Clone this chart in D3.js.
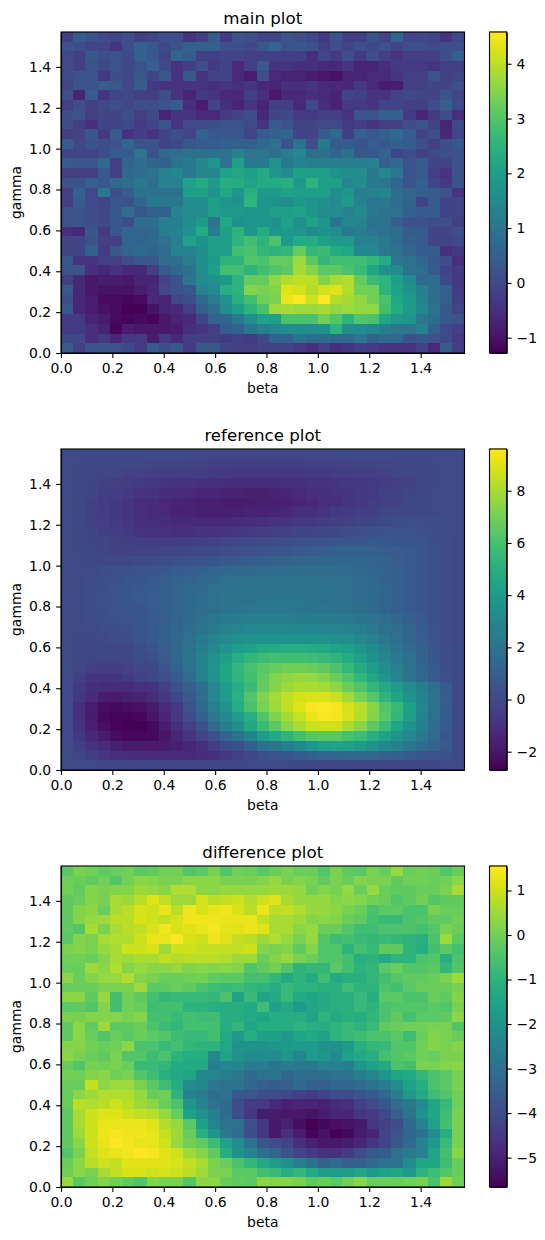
<!DOCTYPE html>
<html>
<head>
<meta charset="utf-8">
<script src="https://cdnjs.cloudflare.com/ajax/libs/d3/7.8.5/d3.min.js"></script>
<style>
  body { margin: 0; background: #fff; }
  text { font-family: "DejaVu Sans", sans-serif; fill: #000; }
  .tick text { font-size: 13.9px; }
  .axis path, .axis line { stroke: #000; stroke-width: 1.1px; }
  .cell, .step { shape-rendering: crispEdges; }
</style>
</head>
<body>
<svg width="545" height="1240"></svg>
<script>
var PI_2 = 1.5708;
var axisTicks = [0, 0.2, 0.4, 0.6, 0.8, 1.0, 1.2, 1.4];
var mainTicks = [-1, 0, 1, 2, 3, 4];
var referenceTicks = [-2, 0, 2, 4, 6, 8];
var differenceTicks = [-5, -4, -3, -2, -1, 0, 1];
var mainRange = [-1.28, 4.58];
var referenceRange = [-2.7, 9.6];
var differenceRange = [-5.66, 1.55];

// rows run from the top of the plot (gamma = pi/2) down to gamma = 0
var mainValues = [
[-.2,.4,.2,0,-.1,.1,-.2,-.1,.1,.1,-.4,-.2,.4,-.3,.2,.1,-.1,-.1,.2,.1,0,-.3,.2,-.2,-.2,.2,-.1,.6,-.1,0,-.1,-.4,0],
[.2,.1,-.1,-.1,-.4,.1,.5,.3,0,.2,.5,.5,.5,.1,.1,0,.3,.6,.2,.3,.2,-.2,.1,-.1,.1,0,.2,-.1,.1,.1,0,.1,.1],
[0,-.2,.3,.1,.2,0,.5,.3,-.1,.6,.4,-.2,-.2,-.1,-.1,-.2,-.2,-.2,-.2,-.2,-.5,-.1,-.3,.1,-.3,.1,-.2,-.4,-.2,-.2,-.2,.1,.5],
[0,-.2,.2,0,.2,0,.2,.5,0,-.4,-.2,.1,-.3,-.1,-.6,-.2,.3,-.4,-.4,-.5,-.5,-.6,-.6,-.4,-.7,-.7,-.5,-.3,-.3,-.3,-.4,-.2,-.2],
[0,.2,.2,-.3,.1,0,.3,-.1,.3,-.4,.3,-.4,-.1,-.1,-.6,-.8,.1,-.6,-.7,-.7,-.8,-.9,-1,-.7,-.7,-.6,-.6,-.4,-.2,-.2,.2,-.2,-.1],
[-.1,.2,.2,.4,.3,0,.4,-.3,-.4,-.4,-.4,-.4,-.5,-.4,-.5,-.4,-.6,-.7,-.5,-.5,-.4,-.6,-.6,-.6,-.3,-.6,-.8,-.8,-.2,-.2,-.1,-.1,.1],
[.1,-.7,.4,-.4,-.1,0,-.2,-.2,.1,-.4,-.7,-.3,-.4,-.6,-.6,-.2,-.5,-.9,-.6,-.6,-.5,-.6,-.7,-.1,-.2,-.4,-.4,-.1,0,-.1,-.1,.2,-.1],
[-.2,.1,-.2,0,.1,0,.1,.1,.2,.4,-.5,-.8,-.1,-.5,-.7,-.4,-.7,-.2,-.2,-.6,0,-.5,-.7,-.3,-.3,-.4,-.1,-.1,-.2,-.2,.1,.5,0],
[.1,.2,-.2,-.1,-.1,.1,-.2,0,-.7,-.4,-.4,-.6,-.6,-.3,-.1,.1,-.6,-.1,0,-.3,-.3,-.2,-.2,-.4,.2,.2,.5,.5,-.3,-.7,-.3,.1,-.5],
[.1,-.2,-.5,-.1,-.1,0,-.3,-.1,.2,-.4,0,0,.1,.2,.2,0,-.4,.4,.2,-.1,-.1,0,0,-.3,-.2,-.4,-.2,-.2,.1,.2,-.1,-.7,0],
[-.2,-.1,.3,-.3,.4,-.4,-.2,-.4,-.1,.1,-.1,.5,.3,.3,.3,-.1,.4,.5,.6,-.1,-.1,.4,.7,-.2,.5,.3,.5,.7,.4,-.1,.1,-.6,-.1],
[.4,0,.2,.1,.2,.6,.2,.2,-.1,0,.3,.4,.4,.5,.5,.5,.7,.9,.2,.9,.1,1.1,.4,.4,.2,.4,.3,.5,.4,.1,-.2,.1,.3],
[-.1,-.1,-.1,.1,.4,.4,1,.2,.7,.8,.9,.9,.9,.9,1.3,1,1,.8,1.2,1.4,.8,.9,.6,.9,.3,.3,.6,-.1,.1,-.2,0,.1,.2],
[.4,.3,.3,.7,-.2,.6,.8,.6,.5,.9,1.1,1.4,1.8,.9,2,1.1,1.1,1.7,1.1,1.3,1.2,1.2,1.2,1.2,1.2,1.3,.5,.7,.2,.4,-.1,-.1,.2],
[-.2,-.2,-.2,.4,-.2,.7,.8,.9,1.3,1.4,1.1,1.4,1.4,2.1,2.2,2,2.3,1.8,1.5,2,2,2,1.7,1.6,1.6,1.1,1.4,1,.2,.4,-.2,-.4,.2],
[.2,.2,.5,.3,.7,.8,1,.8,1.3,1.3,2.1,2.3,1.9,2.4,2.3,2.1,2.3,2.3,2.4,1.9,2.5,2,2,1.4,1.5,1.1,1,.6,.2,.5,-.1,-.3,.2],
[-.2,.5,0,1.1,.1,.4,.9,.9,.9,.9,2,2,1.7,2.2,1.8,2.4,1.9,1.9,2.1,2,2,2,1.6,1.8,1.2,1.3,1.4,.8,.6,.5,.4,.2,-.4],
[-.2,.4,0,-.1,.3,.2,.6,1.1,1.1,1.1,1.6,1.6,2,1.8,1.7,2.5,1.8,1.7,1.6,1.9,1.8,1.7,1.5,1.9,1.3,1,1.1,.8,.6,-.1,.4,-.1,-.1],
[.2,.2,.1,0,.3,.8,.3,.5,.5,1.3,1.5,1.5,2,1.9,1.9,1.8,1.8,2,2,2.1,1.8,1.5,1.6,1.3,1.5,1.1,.9,.9,.5,.4,.4,-.1,-.1],
[.2,.2,.1,0,.3,.1,.8,.8,1.2,1.2,1.6,1.9,1,2.2,1.7,1.8,1.8,1.7,2.1,1.7,2.1,1.8,1,1.4,1.3,.9,.9,.5,.2,.2,.1,.1,-.2],
[-.5,-.6,.3,-.3,.3,.6,.6,.7,1.2,1.3,1.7,2.3,1.2,2,2.5,1.8,2.3,1.8,1.9,1.8,1.5,1.7,1.6,1.1,1.2,1,.9,.8,.4,.4,-.1,-.1,.1],
[-.1,-.1,.2,-.2,-.2,.6,.6,.7,.9,1.2,2.1,1.7,2,2,2.5,2.8,2.5,2.9,1.9,2.3,2.3,2,1.9,1.9,1.3,1.3,1.1,.8,.5,.4,-.1,-.1,0],
[-.1,-.1,.5,-.3,.3,.6,.7,.6,.8,1.3,1.3,1.6,2,2,2.8,2.9,2.6,2.5,2.6,3.2,2.6,2.7,2.3,2.2,1.4,1.4,1.1,.9,.6,.4,.4,-.5,-.3],
[.3,-.4,-.4,-.2,-.2,.1,.3,.3,.8,.8,1.2,1.6,1.9,2.5,2.5,3,2.9,3.2,3.2,3.7,3.1,2.6,2.8,2.8,2.8,2.6,2.3,1,.9,.6,.3,.1,-.5],
[.2,.2,-.5,-.6,-.4,-.6,-.6,-.2,.4,.7,.9,1.6,2,2.8,2.8,2.5,2.8,3,3.1,3.8,3.5,3.1,3.1,2.9,2.7,2.2,1.7,1.5,.9,.8,.4,-.1,-.3],
[-.2,-.6,-.9,-.8,-.8,-.9,-.7,-.7,-.1,.2,1,1.5,1.7,1.9,2.5,3.2,3.2,3.6,3.9,4,4,3.5,3.8,3.9,3.2,2.7,2.5,2,1.5,.7,.8,0,-.3],
[.3,-.6,-.9,-1,-1,-1,-.8,-.6,0,.2,.3,1.3,1.5,2.4,2.5,3.5,3.4,3.5,4.3,4.2,3.9,4.2,4.3,3.9,3.3,3.3,2.5,2.1,1.7,1.2,.8,.5,-.3],
[.1,-.6,-.8,-1.1,-1.1,-1.2,-1.1,-.6,-.7,0,.1,.7,1.2,1.7,2.4,2.8,3.3,3.4,4.4,4.55,4.1,4.55,3.9,3.8,3.6,3.3,2.9,2.2,1.9,1.3,.8,.5,-.2],
[.3,-.6,-.8,-1,-1.1,-1.28,-1.28,-1,-.7,-.6,-.2,.5,.8,1.6,2,2.5,2.9,3.7,3.8,3.7,3.7,3.8,3.6,3.7,3.6,3.6,2.8,2.3,1.9,1.4,.9,.3,-.1],
[-.3,-.3,-.7,-.8,-1.1,-1.2,-1.1,-1.2,-.9,-.7,-.6,-.1,.6,.6,1.1,1.6,2.1,2,2.9,2.9,2.9,3.3,3,2.5,3,2.9,2.2,1.9,1.8,1,.8,.3,.2],
[-.3,-.3,-.5,-.7,-1.2,-.8,-.9,-.9,-.9,-.8,-.5,-.4,-.2,.4,.5,1,1.2,1.4,1.6,1.6,1.6,1.7,2.5,1.6,1.5,1.4,1.2,1,1,1.3,.5,0,-.2],
[0,0,-.5,-.3,-.6,-.3,-.3,-.8,-.3,-.6,-.2,-.2,-.2,-.3,-.2,-.3,0,.5,.5,.9,.8,.8,.7,.7,1,.5,.7,.7,.2,.3,.2,0,-.3],
[.4,-.2,.2,.2,.2,0,-.3,.4,.1,.3,-.3,.3,.3,-.1,-.2,-.2,-.1,-.1,-.1,-.3,-.5,-.2,-.5,-.4,-.2,-.3,-.4,-.4,-.4,-.1,-.6,.4,-.2]
];

var referenceValues = [
[0,0,0,0,0,0,0,0,0,0,0,-.1,-.1,-.1,-.1,-.1,-.1,-.1,-.1,-.1,-.1,-.1,0,0,0,0,0,0,0,0,0,0,0],
[0,0,-.1,-.1,-.1,-.1,-.1,-.2,-.2,-.2,-.3,-.3,-.4,-.4,-.4,-.4,-.4,-.4,-.4,-.4,-.3,-.3,-.3,-.3,-.2,-.2,-.2,-.1,-.1,-.1,0,0,0],
[0,-.1,-.1,-.2,-.2,-.3,-.3,-.4,-.5,-.5,-.5,-.5,-.6,-.6,-.7,-.7,-.7,-.7,-.7,-.7,-.6,-.6,-.5,-.5,-.4,-.4,-.3,-.2,-.2,-.1,-.1,0,0],
[0,-.1,-.2,-.3,-.4,-.5,-.6,-.7,-.8,-.9,-.9,-1,-1,-1.1,-1.1,-1.1,-1.1,-1.1,-1,-1,-.9,-.9,-.8,-.7,-.7,-.6,-.5,-.4,-.3,-.1,-.1,0,0],
[0,-.1,-.2,-.4,-.5,-.6,-.8,-.9,-1.1,-1.2,-1.3,-1.4,-1.4,-1.5,-1.5,-1.6,-1.6,-1.5,-1.4,-1.3,-1.1,-1,-.9,-.8,-.7,-.6,-.4,-.3,-.2,-.1,0,0,0],
[0,-.1,-.3,-.5,-.6,-.8,-1,-1.1,-1.3,-1.4,-1.5,-1.6,-1.6,-1.7,-1.7,-1.7,-1.6,-1.6,-1.5,-1.4,-1.3,-1.1,-1,-.8,-.7,-.5,-.4,-.3,-.1,-.1,0,0,0],
[0,-.1,-.3,-.5,-.7,-.9,-1,-1.2,-1.3,-1.5,-1.5,-1.6,-1.6,-1.6,-1.6,-1.5,-1.5,-1.4,-1.3,-1.1,-1,-.9,-.7,-.6,-.5,-.4,-.2,-.1,-.1,0,0,0,0],
[0,-.1,-.3,-.4,-.6,-.8,-1,-1.1,-1.2,-1.3,-1.3,-1.3,-1.3,-1.3,-1.2,-1.1,-1,-.9,-.8,-.7,-.6,-.5,-.4,-.3,-.2,-.1,0,.1,.2,.2,.1,0,0],
[0,-.1,-.2,-.4,-.5,-.6,-.8,-.9,-.9,-1,-1,-.9,-.9,-.8,-.7,-.6,-.5,-.4,-.3,-.2,-.2,-.1,0,.1,.2,.3,.4,.4,.4,.3,.2,0,0],
[0,-.1,-.2,-.2,-.3,-.4,-.5,-.5,-.5,-.5,-.5,-.4,-.3,-.2,-.1,0,.1,.2,.2,.3,.3,.4,.5,.6,.6,.7,.7,.6,.6,.4,.2,.1,0],
[0,0,-.1,-.2,-.3,-.3,-.3,-.3,-.2,-.2,-.1,0,0,.1,.2,.3,.4,.5,.6,.7,.8,.9,1,1,1,1,.9,.8,.7,.5,.3,.1,0],
[0,0,-.1,-.1,-.1,0,.1,.1,.2,.3,.4,.5,.6,.7,.8,.9,1,1.1,1.2,1.3,1.3,1.3,1.3,1.3,1.3,1.2,1.1,.9,.7,.5,.3,.1,0],
[0,0,0,.1,.2,.3,.4,.5,.6,.8,.9,1,1.2,1.3,1.4,1.4,1.5,1.5,1.6,1.6,1.6,1.6,1.6,1.5,1.4,1.3,1.2,1,.8,.6,.3,.1,0],
[0,0,.1,.2,.3,.5,.6,.7,.9,1.1,1.2,1.4,1.5,1.7,1.7,1.8,1.8,1.9,1.9,1.9,1.8,1.8,1.7,1.7,1.6,1.4,1.2,1,.8,.6,.3,.1,0],
[0,0,.1,.2,.4,.6,.7,.8,1,1.2,1.4,1.5,1.7,1.9,2,2,2,2,2,2,2,1.9,1.8,1.7,1.6,1.5,1.3,1,.8,.6,.3,.1,0],
[0,0,.1,.3,.4,.6,.7,.9,1,1.2,1.4,1.6,1.8,2,2,2,2.1,2.1,2.1,2.1,2,1.9,1.9,1.7,1.6,1.5,1.2,1,.8,.5,.3,.1,0],
[0,0,.1,.2,.4,.5,.6,.8,1,1.2,1.4,1.6,1.8,2,2.1,2.2,2.2,2.2,2.2,2.2,2.1,2.1,2,1.9,1.7,1.5,1.3,1,.8,.5,.3,.1,0],
[0,0,.1,.2,.3,.4,.6,.7,.9,1.2,1.5,1.8,2.1,2.3,2.4,2.5,2.5,2.5,2.5,2.4,2.4,2.4,2.3,2.3,2.1,1.9,1.6,1.3,1,.7,.3,.1,0],
[0,0,0,.1,.2,.3,.5,.7,1,1.3,1.6,2,2.4,2.7,2.9,3.1,3.1,3.1,3,3,3,2.9,2.9,2.8,2.6,2.3,1.9,1.6,1.2,.8,.4,.1,0],
[0,-.1,-.1,0,.1,.2,.4,.7,1,1.4,1.8,2.3,2.7,3.1,3.4,3.5,3.6,3.6,3.6,3.5,3.5,3.5,3.4,3.3,3,2.6,2.2,1.8,1.3,.9,.4,.1,0],
[0,-.1,-.1,-.1,-.1,0,.2,.5,.9,1.4,1.9,2.5,3.1,3.7,4.1,4.4,4.7,4.8,4.9,4.9,4.8,4.7,4.5,4.2,3.7,3.2,2.6,2,1.5,1,.5,.2,0],
[0,-.1,-.2,-.2,-.2,-.1,.1,.3,.8,1.3,2,2.7,3.5,4.2,4.9,5.4,5.7,5.9,5.9,5.9,5.8,5.6,5.3,4.8,4.2,3.5,2.9,2.3,1.7,1.1,.6,.2,0],
[0,-.2,-.4,-.5,-.5,-.3,-.1,0,.5,1.1,1.9,2.8,3.7,4.6,5.4,6,6.4,6.7,6.9,6.9,6.8,6.6,6.1,5.5,4.8,4,3.3,2.6,1.9,1.2,.7,.2,0],
[0,-.4,-.8,-.9,-.8,-.6,-.3,-.1,.2,.8,1.5,2.6,3.6,4.5,5.3,5.9,6.6,7.2,7.5,7.7,7.6,7.3,6.8,6.2,5.4,4.6,3.7,2.9,2.1,1.4,.8,.3,0],
[0,-.6,-1,-1.2,-1.2,-1.2,-1,-.9,-.4,.4,1,1.8,3.1,4.1,4.9,5.7,6.7,7.3,7.8,8,8,7.9,7.5,6.8,6.2,5.4,4.7,4,3.2,2.5,1.7,.8,0],
[0,-.7,-1.2,-1.7,-1.8,-1.6,-1.5,-1.2,-.7,-.1,.7,1.6,3,4,5.1,6.2,7.2,7.9,8.4,8.8,8.9,8.9,8.6,7.9,7.1,6.3,5.3,4.6,3.5,2.7,1.9,.9,0],
[0,-1,-1.7,-2.3,-2.4,-2.3,-2.2,-1.8,-1.2,-.6,.4,1.4,2.6,3.6,4.9,6,7.1,7.8,8.4,9,9.5,9.6,9.5,8.8,8.3,7.4,6.3,5.6,4.3,2.9,1.9,.8,0],
[0,-1,-1.8,-2.4,-2.6,-2.6,-2.5,-2,-1.4,-.7,.1,1,2.2,3.1,4,5,6.2,7.2,7.9,8.5,9.2,9.5,9.4,8.9,8.2,7.3,6.4,5.4,4.2,2.8,1.8,.8,0],
[0,-.9,-1.6,-2.2,-2.6,-2.7,-2.7,-2.4,-1.7,-1,-.3,.4,1.5,2.5,3.4,4.7,5.7,6.5,7.4,8.1,8.6,8.7,8.7,8,7.4,6.5,5.7,4.6,3.5,2.5,1.6,.7,0],
[0,-.7,-1.3,-1.8,-2.3,-2.5,-2.5,-2.4,-2,-1.4,-.8,-.2,.3,1.2,2,2.8,4,4.7,5.3,5.9,6.3,6.4,6.4,6,5.7,5,4.4,3.7,3,2.2,1.5,.6,0],
[0,-.4,-.9,-1.2,-1.6,-1.8,-1.8,-1.8,-1.8,-1.6,-1.4,-1,-.5,0,.3,1,1.7,2,2.5,3,3.7,4.2,4.4,4.2,3.9,3.5,3,2.6,2.1,1.6,1.2,.7,0],
[0,-.2,-.5,-.8,-1,-1.1,-1.2,-1.2,-1.3,-1.3,-1.3,-1.2,-1,-.7,-.4,-.1,.2,.4,.6,.8,1,1.2,1.3,1.4,1.5,1.4,1.2,1,.8,.6,.4,.3,0],
[0,0,0,-.1,-.1,-.1,-.1,-.1,-.1,-.1,-.1,-.1,-.1,-.1,-.1,0,0,0,0,-.1,-.1,-.1,-.1,-.1,-.1,-.1,-.1,-.1,-.1,-.1,-.1,0,0]
];

var differenceValues = [
[-.3,.1,0,-.2,-.1,0,-.3,-.2,0,0,-.4,-.3,.1,-.4,0,-.1,-.3,-.1,.1,-.1,-.1,-.4,.1,-.2,-.3,.1,-.1,.4,-.1,0,-.1,-.4,-.1],
[0,-.1,-.2,0,-.4,0,.3,.2,.1,.1,.3,.3,.3,.1,.1,.1,.2,.4,.1,.2,.1,-.2,.1,-.1,.2,.1,.1,-.2,0,0,-.1,0,.3],
[0,-.2,.2,.1,.2,.2,.5,.4,.3,.7,.7,.3,.3,.4,.4,.4,.4,.5,.5,.4,0,.2,.1,.4,-.1,.4,-.1,-.2,-.2,-.1,-.1,.1,.6],
[-.2,-.1,.2,.1,.6,.5,.8,1.2,.9,.5,.5,1.1,.8,.9,1,.7,1,1.2,.6,.4,.4,.4,.2,.3,.2,0,-.1,-.4,-.2,0,-.4,-.2,-.2],
[-.2,.2,.3,-.1,.6,.8,1.1,1,1.3,.8,1.4,1.1,1.3,1.4,1.1,.8,1.3,.8,.9,.7,.4,.4,.3,.1,-.1,-.5,-.3,-.3,-.5,-.5,.1,-.1,-.1],
[-.2,.2,.4,.5,.8,.8,1.1,1,.9,1.1,1.4,1.4,1.4,1.3,1.3,1.3,.9,.6,.6,.5,.2,.3,.2,-.1,-.2,-.6,-.8,-.8,-.5,-.4,-.2,-.2,0],
[-.2,-.4,.6,.1,.6,.8,.9,1.1,1.4,1.1,1.2,1.3,1.45,1.25,1.2,1.35,1.2,.6,.6,.3,.4,-.1,-.1,-.4,-.7,-.7,-.5,-.5,-.5,-.6,-.4,.1,-.1],
[-.3,.2,.1,.6,.7,.7,1,1.3,1.3,1.55,1.1,1,1.4,1.2,.9,.8,.5,.7,.4,.1,.4,-.4,-.7,-.6,-.8,-.9,-.8,-.9,-1,-1.1,-.5,.5,-.3],
[.1,.2,.1,.4,.6,1,1,1.1,.5,1,1,.9,.9,.9,.9,1,.2,.1,.2,-.2,.2,-.4,-.4,-1,-.6,-.8,-.2,-.2,-1,-1.2,-.6,-.3,-.6],
[0,0,-.1,.2,.6,.5,.6,.6,.9,.7,.8,.8,.8,.7,.5,.5,-.1,.2,.4,.1,-.1,-.4,-.4,-.6,-1.1,-1,-1.3,-1,-1,-.5,-.4,-1.1,-.5],
[-.1,-.1,.5,.3,.7,.2,.4,.3,.3,.4,.2,.3,.2,.3,.2,-.4,-.2,0,-.4,-1,-.9,-.9,-.3,-.6,-1,-.9,-.3,-.1,-.4,-.4,-.3,-.9,-.4],
[.3,-.1,.2,.4,.4,.7,.2,.1,-.1,-.1,0,0,-.2,-.3,-.3,-.6,-.6,-.9,-1.3,-1,-1.3,-.7,-1.3,-1.1,-1.1,-.9,-.6,-.4,-.2,-.2,-.1,.1,.5],
[-.1,-.1,-.1,.1,.1,.1,.5,-.3,-.2,-.1,-.2,-.5,-.7,-.8,-.7,-.9,-1,-1.2,-.8,-1,-1,-1.1,-1.1,-.7,-1,-1,-.5,-.6,-.3,-.1,-.1,-.1,.1],
[.3,.3,-.2,.4,-.6,0,-.2,-.6,-.9,-.8,-.8,-.8,-.9,-.5,-1.5,-.8,-1.4,-1.3,-.8,-1.3,-1.4,-1.3,-1.1,-1.1,-.8,-1.2,-.3,-.3,-.5,-.5,-.1,-.2,.2],
[-.3,-.2,-.4,.2,-.6,0,-.1,-.7,-.6,-.6,-1,-1,-1.1,-1.2,-1.1,-1.3,-.7,-1.6,-1.3,-1.7,-1.4,-1.3,-1.1,-1.1,-.8,-1,-.5,-.4,-.4,-.4,-.3,-.4,.1],
[.1,.1,.2,.2,.2,.1,.2,-.6,-.6,-.8,-.6,-.7,-.7,-1.2,-1.2,-1.3,-1.4,-1.2,-1.2,-1.2,-1.5,-1,-1.3,-1.1,-1.2,-.9,-.5,-.2,-.6,-.3,-.3,-.2,.3],
[-.2,.3,-.2,.5,-.3,-.2,-.1,-.5,-.7,-.9,-.6,-.6,-.6,-1.2,-.9,-1.4,-1.2,-1.2,-1.2,-1,-1.1,-1.2,-1,-.8,-1,-.8,-.2,-.1,0,0,.1,.1,-.4],
[-.2,.3,-.1,-.4,-.1,-.3,-.1,-.3,-.4,-.7,-.8,-.8,-.6,-1.3,-1.8,-1.2,-1.6,-1.6,-1.8,-1.4,-1.3,-1.5,-1,-.8,-.7,-.5,-.5,-.3,-.7,-.1,.2,.1,-.1],
[.2,.2,0,-.1,0,.3,-.5,-.5,-.8,-.6,-.9,-1,-1,-1.4,-2,-2,-2,-1.9,-1.8,-1.7,-1.7,-2,-2,-1.8,-1.1,-.9,-.8,-.4,-.4,0,.2,.1,.2],
[.3,.1,-.1,-.2,.1,-.4,-.4,-.7,-.5,-1,-1.2,-1.2,-2.3,-1.5,-2,-2.2,-2.2,-2.2,-1.9,-2.3,-1.8,-1.9,-2.2,-1.6,-1.3,-1.1,-.6,-.4,-.3,0,-.1,.1,.1],
[-.1,-.4,.1,0,.1,-.1,-.8,-.8,-.9,-1.3,-1.3,-1.3,-2.6,-2.3,-2.3,-2.7,-2.7,-2.9,-2.7,-2.8,-2.8,-2.5,-2.5,-2.6,-1.9,-1.5,-1.3,-.5,-.6,.1,.1,.2,.3],
[0,0,.2,.3,0,.1,-.4,-.7,-1.1,-1.3,-1.4,-2.3,-2.4,-2.6,-2.8,-3.2,-3,-2.9,-3.3,-3.1,-3.1,-3.1,-3,-2.9,-2.6,-2.3,-1.9,-1.4,-1.3,-.9,-.5,-.3,.1],
[-.1,-.1,.9,.3,.5,.5,.1,-.3,-.7,-1.2,-2.2,-2.3,-2.8,-3,-2.9,-3.3,-3.5,-3.6,-3.5,-3.2,-3.5,-3.5,-3.3,-3.3,-3.2,-2.9,-2.7,-2.2,-1.5,-1.2,-.5,-.3,.1],
[-.1,.3,.5,.7,.7,.7,.4,-.1,0,-1,-2.4,-2.7,-3.1,-3,-3.7,-3.8,-4,-4,-4.1,-4.3,-4.4,-4.2,-4,-4,-3.8,-3.6,-3.3,-2.6,-1.8,-1.3,-.7,-.4,0],
[-.1,.8,.7,.8,1,.8,.5,.3,-.1,-.5,-1.9,-2.4,-3,-3.2,-4,-4.4,-4.4,-4.8,-5,-4.9,-4.9,-5,-4.8,-4.7,-4.3,-4,-3.7,-3.1,-2.8,-2.2,-1.4,-.8,0],
[-.2,.6,1,1.2,1.2,1,.9,.8,.4,-.1,-1.6,-2.1,-2.6,-3.2,-4,-4.5,-5.1,-5.1,-5.2,-5.2,-5.3,-5.1,-4.9,-4.9,-4.5,-4.4,-4.1,-3.5,-2.9,-2,-1.4,-.7,.1],
[-.2,.6,1,1.3,1.3,1.3,1.3,1.2,.7,.4,-.3,-1.6,-2.4,-2.9,-3,-3.9,-4.5,-5.2,-5,-5.4,-5.66,-5.5,-5.4,-5.3,-5.2,-4.5,-4.3,-4,-3.2,-2.5,-1.5,-.6,.1],
[-.2,.5,1,1.4,1.45,1.4,1.4,1.3,.9,.5,-.1,-1.1,-1.9,-2.8,-3.1,-4,-4.5,-5.2,-4.7,-5.1,-5.6,-5.3,-5.66,-5.5,-5.1,-4.9,-4.2,-3.8,-3.3,-2.9,-2.2,-1.1,.1],
[-.2,.3,1,1.3,1.55,1.4,1.3,1.3,1,.4,0,-.2,-.7,-1.5,-2.2,-3,-3.7,-4,-4.2,-4.7,-5,-5.2,-5.2,-5.1,-4.9,-4.5,-4.2,-3.7,-3.2,-2.5,-1.8,-.8,.1],
[-.4,.1,.9,1.2,1.3,1.4,1.5,1.45,1.2,1,.5,.2,-.2,-1.2,-2,-2.5,-3,-3.3,-3.8,-4.2,-4.4,-4.6,-4.6,-4.4,-4,-3.7,-3.6,-3,-2.7,-2.5,-1.4,-.6,.3],
[-.1,.3,.8,1,.9,1.2,1.2,1.2,1.2,1.1,.9,.6,.1,-.1,-.5,-.9,-1.3,-1.7,-2,-2.6,-3,-3.4,-3.2,-3.5,-3.5,-3.2,-3,-2.9,-2.2,-1.4,-1.4,-.7,-.1],
[0,.3,.1,.6,.9,1.1,1.1,1,1.1,1,.8,.5,.1,.1,-.3,-.3,-.6,-.8,-1.2,-.9,-1.3,-1.7,-1.7,-1.7,-1.4,-1.8,-1.6,-1.4,-1.8,-1,-.7,-.4,-.1],
[.4,-.3,0,.2,0,-.2,-.4,.2,.1,.1,-.4,.3,.3,-.1,-.2,-.3,.3,.2,.2,.1,-.2,-.1,-.3,0,.3,-.1,-.1,-.1,0,.1,-.5,.5,0]
];

var svg = d3.select("svg");
var plotLeft = 61, plotRight = 464.5, barLeft = 489.5, barRight = 506.7, plotHeight = 321;

var xScale = d3.scaleLinear().domain([0, PI_2]).range([plotLeft, plotRight]);
var cols = d3.scaleBand().domain(d3.range(33)).range([plotLeft, plotRight]);

function drawPlot(top, title, values, range, barTicks) {
  var yScale = d3.scaleLinear().domain([0, PI_2]).range([top + plotHeight, top]);
  var rows = d3.scaleBand().domain(d3.range(33)).range([top, top + plotHeight]);
  var color = d3.scaleSequential(d3.interpolateViridis).domain(range);
  var g = svg.append("g");

  // heatmap cells
  g.selectAll(".row")
    .data(values)
    .enter().append("g")
    .attr("class", "row")
    .each(function(row, r) {
      d3.select(this).selectAll("rect")
        .data(row)
        .enter().append("rect")
        .attr("class", "cell")
        .attr("x", function(d, c) { return cols(c); })
        .attr("y", rows(r))
        .attr("width", cols.bandwidth())
        .attr("height", rows.bandwidth())
        .attr("fill", function(d) { return color(d); });
    });

  // axis-x
  g.append("g")
    .attr("class", "axis")
    .attr("transform", "translate(0," + (top + plotHeight) + ")")
    .call(d3.axisBottom(xScale).tickValues(axisTicks).tickFormat(d3.format(".1f")).tickSize(4.9).tickPadding(4.9).tickSizeOuter(0));

  // axis-y
  g.append("g")
    .attr("class", "axis")
    .attr("transform", "translate(" + plotLeft + ",0)")
    .call(d3.axisLeft(yScale).tickValues(axisTicks).tickFormat(d3.format(".1f")).tickSize(4.9).tickPadding(4.9).tickSizeOuter(0));

  // frame
  g.append("rect")
    .attr("x", plotLeft).attr("y", top)
    .attr("width", plotRight - plotLeft).attr("height", plotHeight)
    .attr("fill", "none").attr("stroke", "#000").attr("stroke-width", 1.1);

  g.append("text")
    .attr("x", (plotLeft + plotRight) / 2).attr("y", top - 8)
    .attr("text-anchor", "middle").attr("font-size", "16.67px")
    .text(title);
  g.append("text")
    .attr("x", (plotLeft + plotRight) / 2).attr("y", top + plotHeight + 40)
    .attr("text-anchor", "middle").attr("font-size", "13.9px")
    .text("beta");
  g.append("text")
    .attr("transform", "translate(21," + (top + plotHeight / 2) + ") rotate(-90)")
    .attr("text-anchor", "middle").attr("font-size", "13.9px")
    .text("gamma");

  // colorbar
  var barScale = d3.scaleLinear().domain(range).range([top + plotHeight, top]);
  var steps = d3.range(256).map(function(i) { return range[0] + (range[1] - range[0]) * i / 255; });
  g.selectAll(".step")
    .data(steps)
    .enter().append("rect")
    .attr("class", "step")
    .attr("x", barLeft)
    .attr("y", function(d) { return barScale(d) - plotHeight / 256; })
    .attr("width", barRight - barLeft)
    .attr("height", plotHeight / 256 + 1)
    .attr("fill", function(d) { return color(d); });
  g.append("g")
    .attr("class", "axis")
    .attr("transform", "translate(" + barRight + ",0)")
    .call(d3.axisRight(barScale).tickValues(barTicks).tickFormat(d3.format("d")).tickSize(4.9).tickPadding(4.9).tickSizeOuter(0));
  g.append("rect")
    .attr("x", barLeft).attr("y", top)
    .attr("width", barRight - barLeft).attr("height", plotHeight)
    .attr("fill", "none").attr("stroke", "#000").attr("stroke-width", 1.1);
}

drawPlot(32, "main plot", mainValues, mainRange, mainTicks);
drawPlot(449, "reference plot", referenceValues, referenceRange, referenceTicks);
drawPlot(866, "difference plot", differenceValues, differenceRange, differenceTicks);
</script>
</body>
</html>
